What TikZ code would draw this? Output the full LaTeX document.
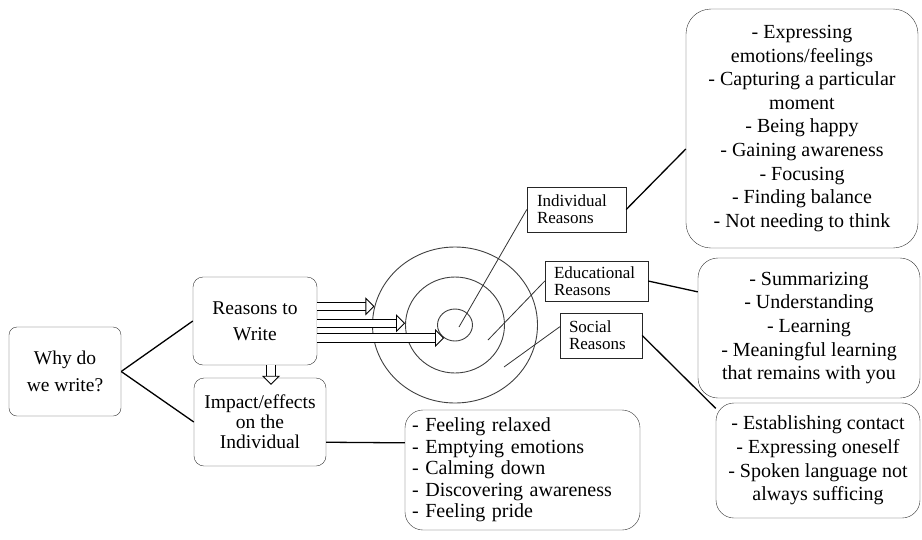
\documentclass[tikz,border=0pt]{standalone}
\usepackage{fontspec}
\setmainfont{Liberation Serif}
\usetikzlibrary{shapes.geometric, arrows.meta}

\begin{document}
\begin{tikzpicture}[x = 1pt, y = -1pt,
	roundbox/.style = {draw = black!80, rounded corners = 10pt, align = center, inner sep = 0pt, font = \fontsize{19.5}{26}\selectfont},
	listbox/.style = {draw = black!80, rounded corners = 20pt, align = center, inner sep = 0pt, font = \fontsize{20}{23.6}\selectfont},
	tagbox/.style = {draw = black!85, align = left, inner ysep = 0pt, font = \fontsize{17}{17}\selectfont},
	ring/.style = {draw = black!75, line width = 0.9pt, ellipse, inner sep = 0pt},
	link/.style = {line width = 1.3pt},
	pointer/.style = {draw = black!80, line width = 0.8pt},
	blockarrow/.style = {double = white, double distance = 7.5pt, line width = 0.9pt,
		-{Triangle[open, fill = white, width = 18pt, length = 9pt, line width = 0.9pt]}}]

\useasboundingbox (0, 0) rectangle (922, 539);

% Left side boxes

\node [roundbox, rounded corners = 8pt, font = \fontsize{19.5}{27}\selectfont, minimum width = 112pt, minimum height = 89pt] (why) at (65, 371.5) {Why do\\we write?};
\node [roundbox, minimum width = 124pt, minimum height = 88pt] (rw) at (255, 321) {Reasons to\\Write};
\node [roundbox, font = \fontsize{19.5}{20}\selectfont, minimum width = 132pt, minimum height = 88pt] (imp) at (260, 422) {Impact/effects\\on the\\Individual};

\draw [link] (why.east) -- (rw.west);
\draw [link] (why.east) -- (imp.west);

% Target circles

\node [ring, minimum width = 165pt, minimum height = 156pt] (outer) at (455, 325) {};
\node [ring, minimum width = 99pt, minimum height = 96pt] (middle) at (455, 325) {};
\node [ring, minimum width = 35pt, minimum height = 32pt] (inner) at (455, 325) {};

\coordinate (idot) at (459, 327);
\coordinate (edot) at (488, 340);
\coordinate (sdot) at (504, 367);

% Block arrows

\draw [blockarrow] (rw.east |- outer.167) -- (outer.167);
\draw [blockarrow] (rw.east |- middle.178) -- (middle.178);
\draw [blockarrow] (rw.east |- inner.230) -- (inner.230);
\draw [blockarrow] ([xshift = 16pt] rw.south) -- ([xshift = 11pt, yshift = -7pt] imp.north);

% Reason tags

\node [tagbox, inner xsep = 10pt, text width = 79pt, minimum height = 45pt] (itag) at (576.5, 209.5) {Individual\\Reasons};
\node [tagbox, inner xsep = 9pt, text width = 85pt, minimum height = 40pt] (etag) at (596.5, 281) {Educational\\Reasons};
\node [tagbox, inner xsep = 9pt, text width = 64pt, minimum height = 45pt] (stag) at (601, 335.5) {Social\\Reasons};

\draw [pointer] (idot) -- (itag.west);
\draw [pointer] (edot) -- (etag.west);
\draw [pointer] (sdot) -- (stag.168);

% Lists

\node [listbox, rounded corners = 25pt, minimum width = 232pt, minimum height = 239pt] (ilist) at (802, 128.5) {- Expressing\\emotions/feelings\\- Capturing a particular\\moment\\- Being happy\\- Gaining awareness\\- Focusing\\- Finding balance\\- Not needing to think};
\node [listbox, minimum width = 222pt, minimum height = 140pt] (elist) at (809, 328) {- Summarizing\\- Understanding\\- Learning\\- Meaningful learning\\that remains with you};
\node [listbox, rounded corners = 18pt, minimum width = 204pt, minimum height = 115pt] (slist) at (818, 460.5) {- Establishing contact\\- Expressing oneself\\- Spoken language not\\always sufficing};
\node [listbox, rounded corners = 18pt, align = left, inner xsep = 7pt, text width = 221pt, font = \fontsize{20}{21.5}\selectfont, minimum height = 120pt] (implist) at (522.5, 470) {- Feeling relaxed\\- Emptying emotions\\- Calming down\\- Discovering awareness\\- Feeling pride};

\draw [link] (itag.east) -- (ilist.190);
\draw [link] (etag.east) -- (elist.162);
\draw [link] (stag.east) -- (slist.153);
\draw [link] (imp.-17.6) -- (implist.167.1);

\end{tikzpicture}
\end{document}
